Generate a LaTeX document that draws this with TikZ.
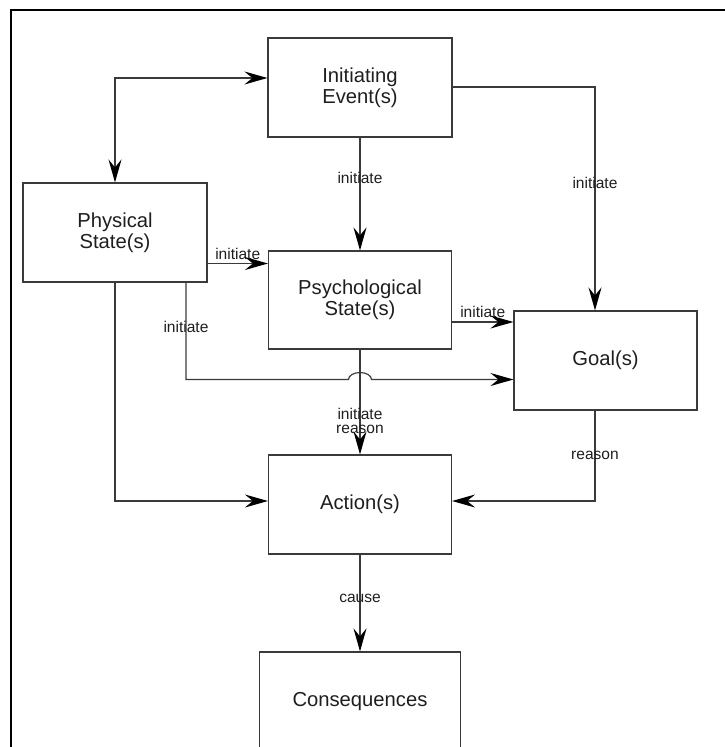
\documentclass[tikz,border=0pt]{standalone}
\usepackage{fontspec}
\setmainfont{Liberation Sans}
\usetikzlibrary{arrows.meta}
\definecolor{linegray}{HTML}{3A3A3A}
\definecolor{textgray}{HTML}{1E1E1E}
\begin{document}
\begin{tikzpicture}[x=1bp,y=-1bp,
  box/.style={draw=linegray, line width=1.15bp, rectangle, inner sep=0pt,
    align=center, text=textgray, font=\fontsize{20.3}{21}\selectfont},
  lbl/.style={inner sep=0pt, text=textgray, align=center,
    font=\fontsize{15.6}{14}\selectfont},
  tip/.tip={Stealth[length=23bp,width=13bp,inset=8bp,color=black]},
  link/.style={draw=linegray, line width=1.15bp, -tip},
  twoway/.style={draw=linegray, line width=1.15bp, tip-tip},
]
\useasboundingbox (0,0) rectangle (725,747);

% outer frame
\draw[black, line width=1.4bp] (11,770) -- (11,10) -- (750,10);

% boxes
\node[box, minimum width=184bp, minimum height=99bp] (ie)   at (360,87.5)  {Initiating\\Event(s)};
\node[box, minimum width=184bp, minimum height=99bp] (ps)   at (115,232.5) {Physical\\State(s)};
\node[box, minimum width=183bp, minimum height=98bp] (psy)  at (360,300)   {Psychological\\State(s)};
\node[box, minimum width=183bp, minimum height=99bp] (goal) at (605.5,360.5) {Goal(s)};
\node[box, minimum width=183bp, minimum height=99bp] (act)  at (360,504.5) {Action(s)};
\node[box, minimum width=201bp, minimum height=100bp] (cons) at (360,702)  {Consequences};

% crossing point where the long initiate line hops over the vertical
\coordinate (hop) at (360,379.5);

% connectors
\draw[twoway] (ps.north) |- ([yshift=9.5bp]ie.west);
\draw[link] (ie) -- node[lbl, pos=0.36] {initiate} (psy);
\draw[link] ([yshift=0.5bp]ie.east) -| node[lbl, pos=0.714] {initiate} ([xshift=-10.5bp]goal.north);
\draw[link] ([yshift=-31bp]ps.east) coordinate (a) -- node[lbl, yshift=9.5bp] {initiate} (a -| psy.west);
\draw[link] ([yshift=-22bp]psy.east) coordinate (b) -- node[lbl, yshift=10bp] {initiate} (b -| goal.west);
\draw[link] ([xshift=71bp]ps.south) |- node[lbl, pos=0.227] {initiate} ([xshift=-11.5bp]hop)
  arc[start angle=180, end angle=0, x radius=11.5bp, y radius=7bp] -- (hop -| goal.west);
\draw[link] (ps.south) |- ([yshift=3.5bp]act.west);
\draw[link] (psy) -- node[lbl, pos=0.68] {initiate\\reason} (act);
\draw[link] ([xshift=-10.5bp]goal.south) |- node[lbl, pos=0.247] {reason} ([yshift=3.5bp]act.east);
\draw[link] (act) -- node[lbl, pos=0.45] {cause} (cons);
\end{tikzpicture}
\end{document}
